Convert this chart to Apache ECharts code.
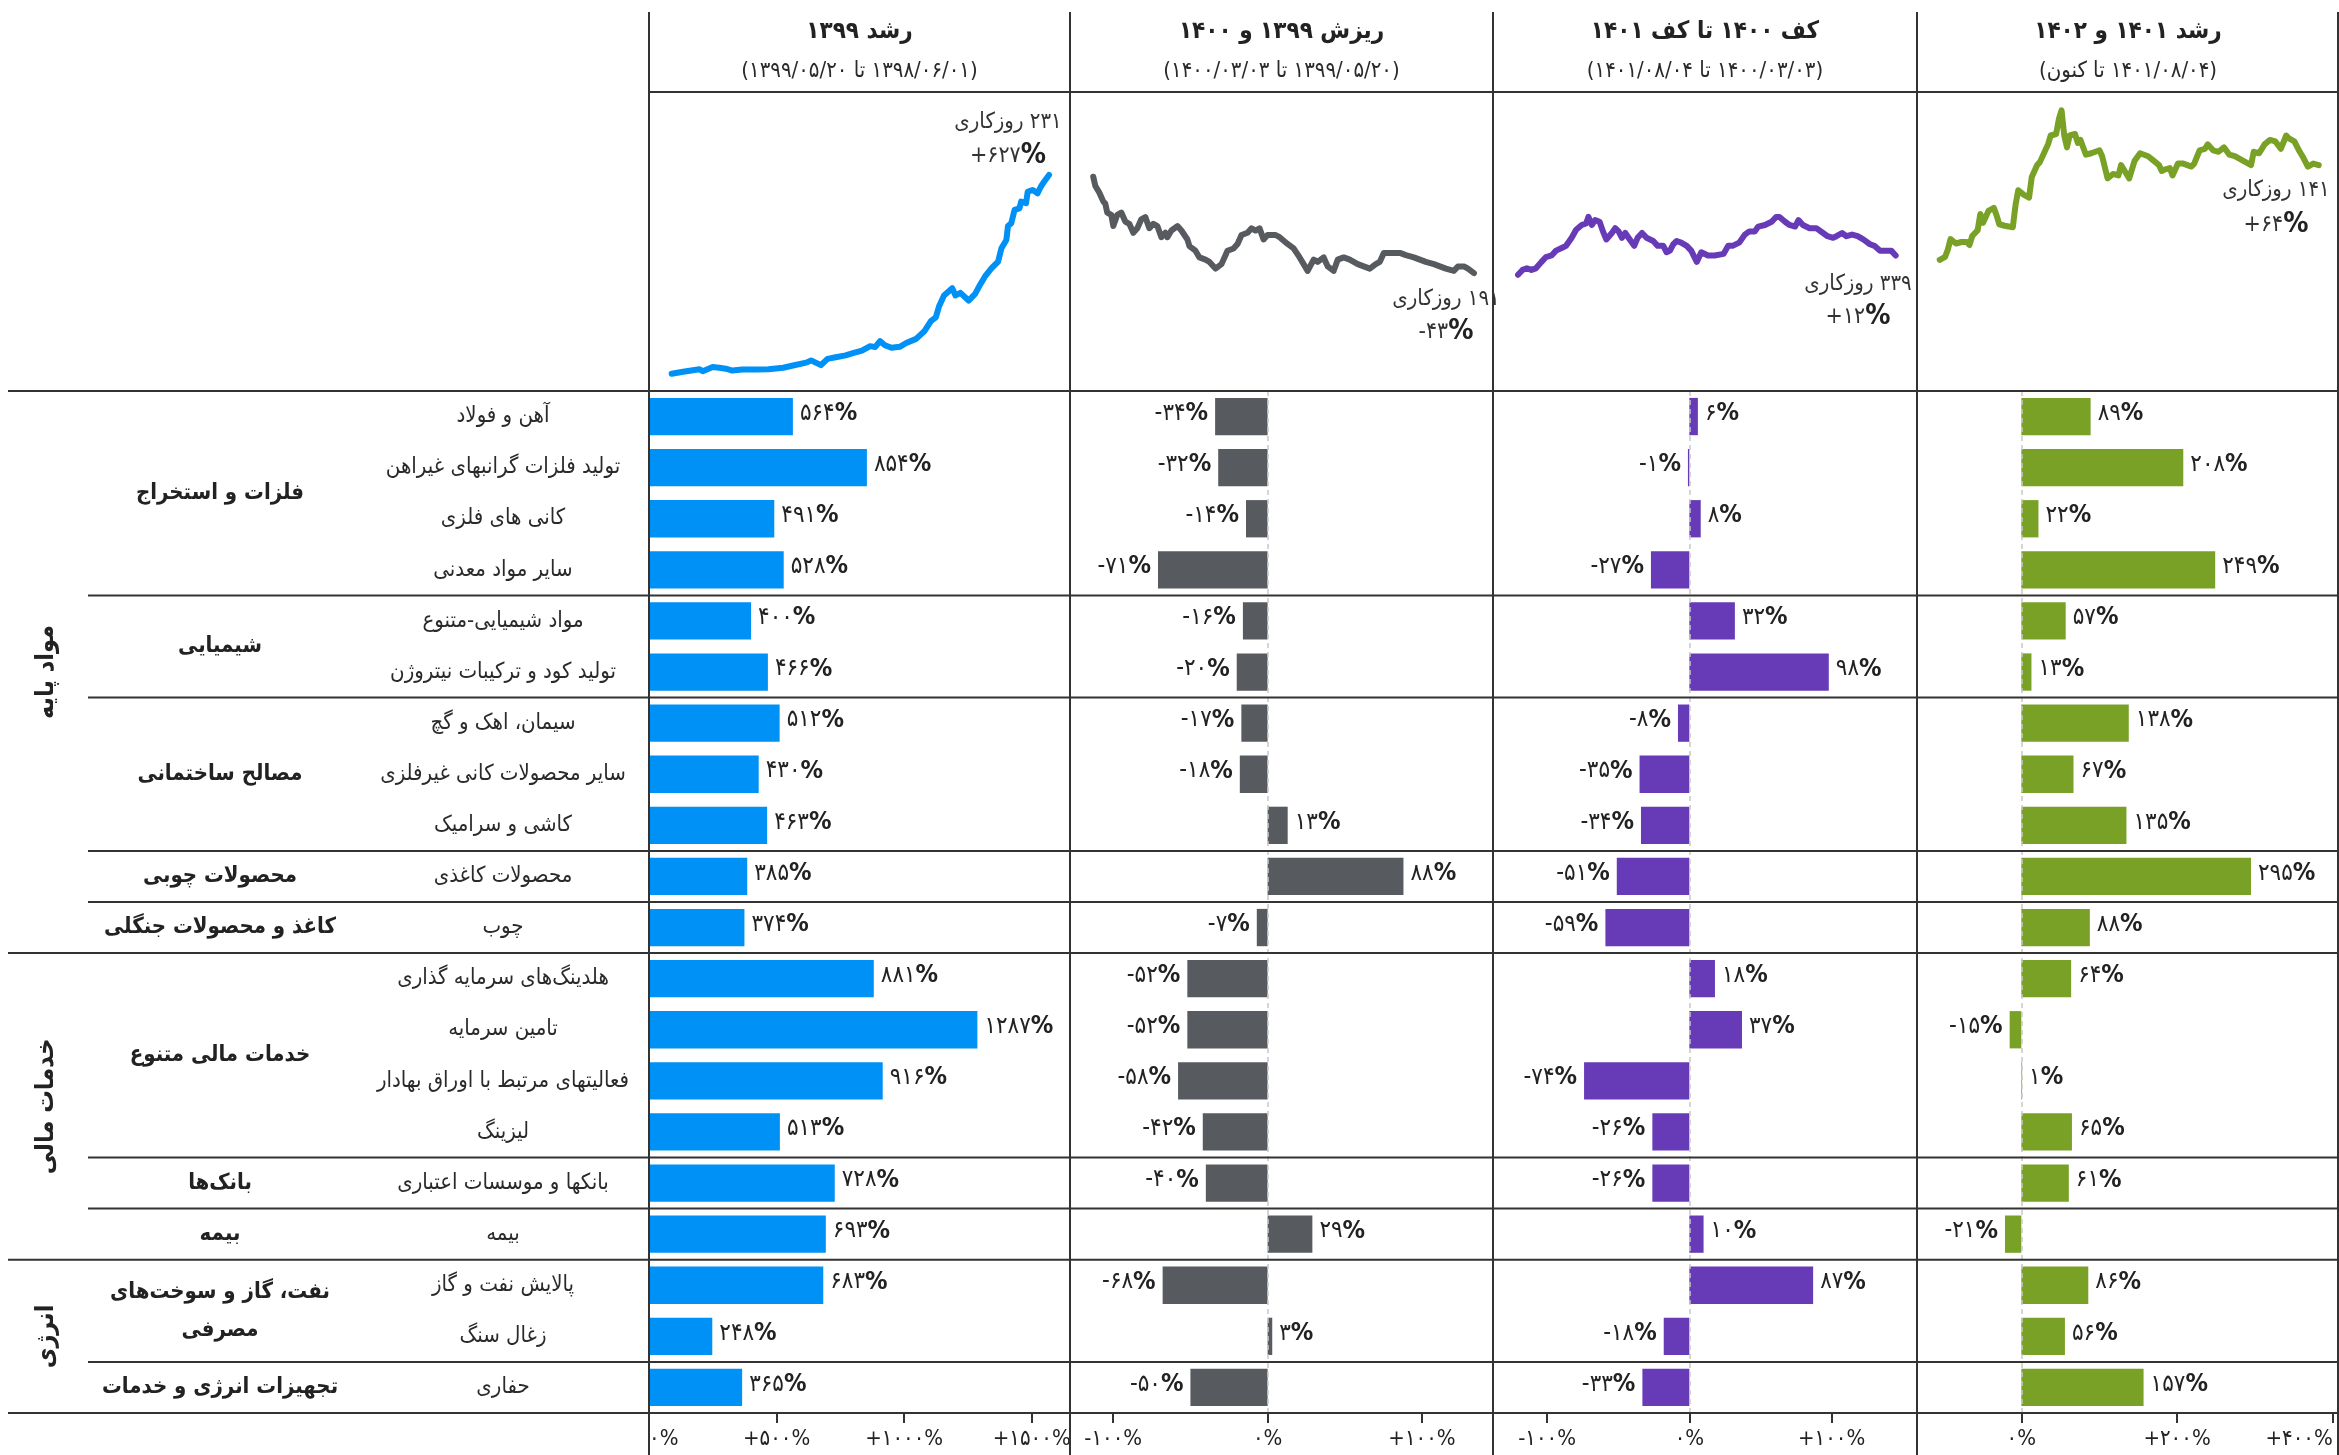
<!DOCTYPE html>
<html lang="fa">
<head>
  <meta charset="UTF-8">
  <title>بازدهی صنایع بورس</title>
  <script src="https://cdn.jsdelivr.net/npm/echarts@6/dist/echarts.min.js"></script>
  <style>
    html, body { margin: 0; background: #fff; }
    #main { width: 2339px; height: 1455px; }
  </style>
</head>
<body>
<div id="main"></div>
<script>
  // row labels, top to bottom
  var sectors = [
    'آهن و فولاد', 'تولید فلزات گرانبهای غیراهن', 'کانی های فلزی', 'سایر مواد معدنی',
    'مواد شیمیایی-متنوع', 'تولید کود و ترکیبات نیتروژن',
    'سیمان، اهک و گچ', 'سایر محصولات کانی غیرفلزی', 'کاشی و سرامیک',
    'محصولات کاغذی', 'چوب',
    'هلدینگ‌های سرمایه گذاری', 'تامین سرمایه', 'فعالیتهای مرتبط با اوراق بهادار', 'لیزینگ',
    'بانکها و موسسات اعتباری', 'بیمه',
    'پالایش نفت و گاز', 'زغال سنگ', 'حفاری'
  ];
  var groupNames = ['فلزات و استخراج', 'شیمیایی', 'مصالح ساختمانی', 'محصولات چوبی', 'کاغذ و محصولات جنگلی',
    'خدمات مالی متنوع', 'بانک‌ها', 'بیمه', 'نفت، گاز و سوخت‌های\nمصرفی', 'تجهیزات انرژی و خدمات'];
  var groupSizes = [4, 2, 3, 1, 1, 4, 1, 1, 2, 1];
  var sectionNames = ['مواد پایه', 'خدمات مالی', 'انرژی'];
  var sectionSizes = [11, 6, 3];

  var periodTitles = ['رشد ۱۳۹۹', 'ریزش ۱۳۹۹ و ۱۴۰۰', 'کف ۱۴۰۰ تا کف ۱۴۰۱', 'رشد ۱۴۰۱ و ۱۴۰۲'];
  var periodRanges = ['(۱۳۹۸/۰۶/۰۱ تا ۱۳۹۹/۰۵/۲۰)', '(۱۳۹۹/۰۵/۲۰ تا ۱۴۰۰/۰۳/۰۳)',
    '(۱۴۰۰/۰۳/۰۳ تا ۱۴۰۱/۰۸/۰۴)', '(۱۴۰۱/۰۸/۰۴ تا کنون)'];
  var periodDays = [231, 191, 339, 141];
  var periodIndex = [627, -43, 12, 64];

  // sector returns per period (%)
  var growth1399 = [564, 854, 491, 528, 400, 466, 512, 430, 463, 385, 374, 881, 1287, 916, 513, 728, 693, 683, 248, 365];
  var fall1400 = [-34, -32, -14, -71, -16, -20, -17, -18, 13, 88, -7, -52, -52, -58, -42, -40, 29, -68, 3, -50];
  var floor1401 = [6, -1, 8, -27, 32, 98, -8, -35, -34, -51, -59, 18, 37, -74, -26, -26, 10, 87, -18, -33];
  var growth1402 = [89, 208, 22, 249, 57, 13, 138, 67, 135, 295, 88, 64, -15, 1, 65, 61, -21, 86, 56, 157];

  // total index path, [working day, % change]
  var index1399 = [[0,0],[7,6],[17,14],[19,8],[25,21],[29,19],[33,16],[37,10],[43,13],[51,13],[59,14],[68,19],
    [74,26],[82,35],[85,42],[91,27],[95,47],[100,52],[106,58],[111,66],[116,73],[121,87],[124,84],[127,103],
    [130,90],[134,82],[139,85],[143,97],[149,110],[154,134],[158,166],[161,178],[163,213],[166,247],[171,270],
    [173,247],[176,255],[181,231],[185,252],[188,281],[191,307],[195,333],[199,354],[201,396],[204,422],
    [205,466],[207,475],[209,517],[212,522],[213,543],[216,538],[217,574],[220,580],[223,569],[225,590],
    [227,606],[230,627]];
  var index1400 = [[0,0],[1,-4],[3,-7],[5,-11],[6,-12],[7,-16],[9,-17],[10,-22],[12,-17],[14,-16],[16,-20],
    [18,-21],[20,-25],[22,-23],[24,-19],[26,-18],[28,-23],[30,-21],[32,-22],[34,-27],[36,-25],[37,-27],
    [39,-24],[42,-22],[44,-24],[47,-28],[48,-31],[51,-33],[53,-36],[56,-37],[58,-38],[61,-41],[64,-39],
    [67,-33],[70,-32],[72,-30],[74,-26],[77,-25],[79,-23],[81,-24],[83,-23],[85,-28],[87,-26],[91,-26],
    [93,-27],[97,-30],[100,-32],[103,-36],[107,-42],[110,-37],[112,-38],[115,-36],[117,-40],[120,-42],
    [122,-37],[125,-36],[128,-37],[132,-39],[135,-40],[138,-41],[141,-39],[143,-38],[145,-34],[148,-34],
    [153,-34],[156,-35],[160,-36],[163,-37],[166,-38],[170,-39],[173,-40],[176,-41],[180,-42],[182,-40],
    [185,-40],[187,-41],[190,-43]];
  var index1401 = [[0,0],[4,3],[8,4],[12,3],[16,4],[21,8],[25,11],[30,12],[34,15],[40,17],[43,18],[48,23],
    [52,28],[57,31],[61,32],[63,36],[66,31],[69,34],[73,33],[76,27],[79,22],[84,26],[87,29],[90,27],[93,23],
    [96,26],[100,22],[104,18],[107,23],[111,26],[115,23],[121,21],[125,18],[130,18],[133,14],[136,15],
    [139,19],[142,21],[146,20],[151,18],[155,15],[160,8],[164,14],[170,12],[176,12],[184,13],[188,18],
    [192,18],[198,20],[203,25],[207,27],[212,27],[215,30],[221,31],[227,33],[231,36],[234,36],[239,33],
    [243,31],[248,30],[251,34],[255,31],[261,29],[267,29],[273,26],[277,24],[282,23],[285,24],[290,26],
    [294,24],[299,25],[304,24],[309,22],[315,19],[319,18],[324,15],[330,15],[334,15],[338,12]];
  var index1402 = [[0,0],[2,2],[3,7],[4,14],[6,11],[8,12],[10,12],[11,10],[12,16],[14,20],[15,31],[16,25],
    [18,33],[20,35],[21,30],[22,24],[24,23],[27,22],[28,37],[29,47],[31,44],[33,42],[34,56],[36,64],[37,66],
    [39,74],[40,78],[41,84],[43,85],[44,95],[45,101],[46,84],[47,76],[48,84],[50,85],[51,79],[52,81],[54,71],
    [56,72],[59,74],[60,70],[62,55],[64,58],[66,57],[67,64],[69,58],[70,55],[72,67],[74,72],[77,70],[79,67],
    [81,64],[82,60],[83,61],[85,62],[86,57],[88,65],[90,65],[93,63],[94,65],[96,74],[98,75],[99,78],[101,74],
    [103,73],[105,76],[107,71],[109,70],[110,69],[113,66],[115,64],[116,73],[118,72],[120,78],[122,81],
    [124,80],[126,75],[128,84],[129,82],[131,80],[133,73],[134,70],[136,63],[138,65],[140,64]];

  var tickValues = [[0, 500, 1000, 1500], [-100, 0, 100], [-100, 0, 100], [0, 200, 400]];

  var barValues = [growth1399, fall1400, floor1401, growth1402];
  var lineValues = [index1399, index1400, index1401, index1402];
  var colors = ['#0091f7', '#575a5e', '#673bb7', '#79a126'];

  // layout
  var FONT = "'DejaVu Sans Condensed', 'DejaVu Sans', sans-serif";
  var panelX = [649, 1070, 1493, 1917, 2339];
  var headTop = 12, headLine = 92, barTop = 391, barBottom = 1413;
  var barRange = [[0, 1650], [-128, 146], [-138, 160], [-134, 408]];
  var lineXRange = [[-13.8, 242.8], [-11.6, 199.5], [-22.4, 357.1], [-8.4, 147.5]];
  var lineYRange = [[-54.5, 889], [-95.6, 37.8], [-72.4, 113.8], [-88.7, 113.4]];
  var notePos = [[1008, 122, 156], [1446, 299, 332], [1858, 284, 317], [2276, 190, 225]];

  function fa(n) {
    return String(n).replace(/\d/g, function (d) { return '۰۱۲۳۴۵۶۷۸۹'[d]; });
  }
  function signed(v) {
    if (v === 0) return '۰';
    return (v > 0 ? '+' : '-') + fa(Math.abs(v));
  }
  function rtl(s) {
    return '\u200F' + s + '\u200F';
  }

  var chart = echarts.init(document.getElementById('main'));

  var grids = [], xAxes = [], yAxes = [], series = [];
  for (var i = 0; i < 4; i++) {
    grids.push({left: panelX[i], top: barTop, width: panelX[i + 1] - panelX[i], height: barBottom - barTop, outerBoundsMode: 'none'});
  }
  for (i = 0; i < 4; i++) {
    grids.push({left: panelX[i], top: headLine, width: panelX[i + 1] - panelX[i], height: barTop - headLine, outerBoundsMode: 'none'});
  }

  for (i = 0; i < 4; i++) {
    var lab = {
      customValues: tickValues[i],
      formatter: function (v) { return signed(v) + '%'; },
      fontFamily: FONT, fontSize: 22, color: '#222', margin: 15,
      hideOverlap: false
    };
    if (i === 0) lab.alignMinLabel = 'left';
    if (i === 3) lab.alignMaxLabel = 'right';
    xAxes.push({
      gridIndex: i, type: 'value', min: barRange[i][0], max: barRange[i][1],
      axisLine: {show: true, onZero: false, lineStyle: {color: '#333', width: 2}},
      axisTick: {show: true, length: 10, customValues: tickValues[i], lineStyle: {color: '#333', width: 2}},
      axisLabel: lab,
      splitLine: {show: false}
    });
    yAxes.push({
      gridIndex: i, type: 'category', data: sectors, inverse: true,
      axisLine: {show: false}, axisTick: {show: false}, splitLine: {show: false},
      axisLabel: i === 0 ? {show: true, interval: 0, align: 'center', margin: 146,
        fontFamily: FONT, fontSize: 22, color: '#2a2a2a'} : {show: false}
    });
  }
  for (i = 0; i < 4; i++) {
    xAxes.push({gridIndex: 4 + i, type: 'value', min: lineXRange[i][0], max: lineXRange[i][1], show: false});
    yAxes.push({gridIndex: 4 + i, type: 'value', min: lineYRange[i][0], max: lineYRange[i][1], show: false});
  }

  var labelRich = {
    n: {fontFamily: FONT, fontSize: 24, color: '#222'},
    p: {fontFamily: FONT, fontSize: 25, fontWeight: 'bold', color: '#222'}
  };

  for (i = 0; i < 4; i++) {
    var s = {
      type: 'bar', xAxisIndex: i, yAxisIndex: i,
      barCategoryGap: '27%',
      itemStyle: {color: colors[i]},
      label: {
        show: true, distance: 7, offset: [0, -3],
        formatter: function (p) {
          var v = p.value;
          return '{n|' + (v < 0 ? '-' + fa(-v) : fa(v)) + '}{p|%}';
        },
        rich: labelRich
      },
      data: barValues[i].map(function (v) {
        return {value: v, label: {position: v < 0 ? 'left' : 'right'}};
      })
    };
    if (i > 0) {
      s.markLine = {
        silent: true, symbol: ['none', 'none'], label: {show: false},
        lineStyle: {type: [5, 4], color: '#c8c8c8', width: 1.5},
        data: [{xAxis: 0}]
      };
    }
    series.push(s);
  }
  for (i = 0; i < 4; i++) {
    series.push({
      type: 'line', xAxisIndex: 4 + i, yAxisIndex: 4 + i,
      data: lineValues[i], showSymbol: false, symbol: 'none',
      lineStyle: {color: colors[i], width: 6, cap: 'round', join: 'round'},
      itemStyle: {color: colors[i]}
    });
  }

  chart.setOption({
    animation: false,
    backgroundColor: '#fff',
    grid: grids,
    xAxis: xAxes,
    yAxis: yAxes,
    series: series
  });

  // table frame and labels, placed from the category axis
  function rowY(k) {
    return chart.convertToPixel({yAxisIndex: 0}, k);
  }
  var band = rowY(1) - rowY(0);
  var g = [];
  function hline(y, x0) {
    g.push({type: 'line', z: 10, shape: {x1: x0, y1: y, x2: 2339, y2: y}, style: {stroke: '#333', lineWidth: 2}});
  }
  function vline(x) {
    g.push({type: 'line', z: 10, shape: {x1: x, y1: headTop, x2: x, y2: 1455}, style: {stroke: '#333', lineWidth: 2}});
  }
  for (i = 0; i < 4; i++) vline(panelX[i]);
  vline(2338);
  g.push({type: 'line', z: 10, shape: {x1: panelX[0], y1: headLine, x2: 2339, y2: headLine}, style: {stroke: '#333', lineWidth: 2}});

  var secEnds = [], acc = 0;
  sectionSizes.forEach(function (n, k) {
    var y0 = rowY(acc) - band / 2, y1 = rowY(acc + n - 1) + band / 2;
    hline(y0, 8);
    secEnds.push(acc + n);
    g.push({
      type: 'text', z: 10, x: 46, y: (y0 + y1) / 2, rotation: Math.PI / 2,
      style: {text: sectionNames[k], fontFamily: FONT, fontSize: 25, fontWeight: 'bold', fill: '#222',
        align: 'center', verticalAlign: 'middle'}
    });
    acc += n;
  });
  hline(rowY(acc - 1) + band / 2, 8);

  acc = 0;
  groupSizes.forEach(function (n, k) {
    if (acc > 0 && secEnds.indexOf(acc) < 0) hline(rowY(acc) - band / 2, 88);
    g.push({
      type: 'text', z: 10, x: 220, y: (rowY(acc) + rowY(acc + n - 1)) / 2,
      style: {text: groupNames[k], fontFamily: FONT, fontSize: 22, fontWeight: 'bold', fill: '#222',
        align: 'center', verticalAlign: 'middle', lineHeight: 38}
    });
    acc += n;
  });

  for (i = 0; i < 4; i++) {
    var cx = (panelX[i] + panelX[i + 1]) / 2;
    g.push({
      type: 'text', z: 10, x: cx, y: 32,
      style: {text: periodTitles[i], fontFamily: FONT, fontSize: 24, fontWeight: 'bold', fill: '#222',
        align: 'center', verticalAlign: 'middle'}
    });
    g.push({
      type: 'text', z: 10, x: cx, y: 71,
      style: {text: rtl(periodRanges[i]), fontFamily: FONT, fontSize: 22, fontWeight: 500, fill: '#2a2a2a',
        align: 'center', verticalAlign: 'middle'}
    });
    g.push({
      type: 'text', z: 10, x: notePos[i][0], y: notePos[i][1],
      style: {text: rtl(fa(periodDays[i]) + ' روزکاری'), fontFamily: FONT, fontSize: 22, fill: '#333',
        align: 'center', verticalAlign: 'middle'}
    });
    g.push({
      type: 'text', z: 10, x: notePos[i][0], y: notePos[i][2],
      style: {
        text: '{a|' + signed(periodIndex[i]) + '}{b|%}', align: 'center', verticalAlign: 'middle',
        rich: {
          a: {fontFamily: FONT, fontSize: 23, fill: '#333'},
          b: {fontFamily: FONT, fontSize: 28, fontWeight: 'bold', fill: '#222'}
        }
      }
    });
  }

  chart.setOption({graphic: {elements: g}});
</script>
</body>
</html>
